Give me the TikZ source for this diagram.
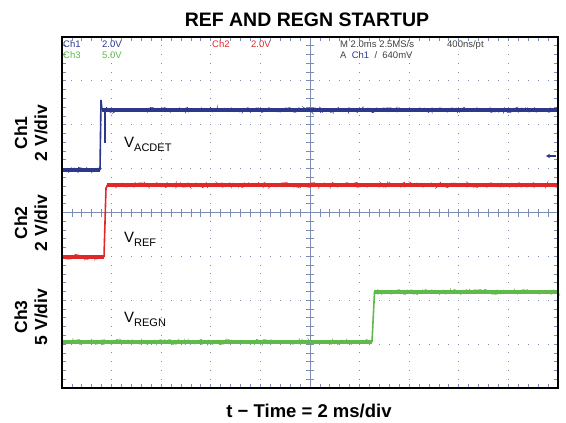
\documentclass[tikz,border=0pt]{standalone}
\usepackage{fontspec}
\setmainfont{Liberation Sans}
\usetikzlibrary{arrows.meta,decorations.pathmorphing}
\definecolor{chblue}{RGB}{44,56,140}
\definecolor{chred}{RGB}{225,40,40}
\definecolor{chgreen}{RGB}{95,185,75}
\definecolor{gridc}{RGB}{125,140,180}
\newcommand{\vsig}[1]{V{\fontsize{11}{11}\selectfont\raisebox{-4.5pt}{#1}}}

\begin{document}
\begin{tikzpicture}[x=1pt, y=-1pt, font=\fontsize{9.5}{9.5}\selectfont,
  trace/.style={line width=4.2pt, postaction={draw, line width=0.7pt, decorate, decoration={random steps, segment length=1.5pt, amplitude=2.6pt}}},
  edge/.style={line width=1.6pt},
  vdots/.style={gridc, line width=1pt, dash pattern=on 1pt off 7.775pt, dash phase=0.5pt},
  hdots/.style={gridc, line width=1pt, dash pattern=on 1pt off 8.92pt, dash phase=0.5pt},
  tick/.style={gridc, line width=0.8pt},
  hdr/.style={anchor=base west, inner sep=0pt},
  axlab/.style={font=\bfseries\fontsize{17.5}{20}\selectfont, align=center, rotate=90},
  siglab/.style={font=\fontsize{15}{15}\selectfont, anchor=base west, inner sep=0pt}]
	\useasboundingbox (0,0) rectangle (566,423);
	% grid
	\foreach \i in {1,2,3,4,6,7,8,9}
	  \draw[vdots] ({62+49.6*\i},37) -- ({62+49.6*\i},388);
	\foreach \j in {1,2,3,5,6,7}
	  \draw[hdots] (62,{37+43.875*\j}) -- (558,{37+43.875*\j});
	\draw[tick] (310,37) -- (310,388);
	\draw[tick] (62,212.5) -- (558,212.5);
	\foreach \k in {1,...,49} {
	  \draw[tick] ({62+9.92*\k},208.5) -- ++(0,8);
	  \draw[tick] ({62+9.92*\k},37) -- ++(0,4);
	  \draw[tick] ({62+9.92*\k},388) -- ++(0,-4);
	}
	\foreach \k in {1,...,39} {
	  \draw[tick] (306,{37+8.775*\k}) -- ++(8,0);
	  \draw[tick] (62,{37+8.775*\k}) -- ++(4,0);
	  \draw[tick] (558,{37+8.775*\k}) -- ++(-4,0);
	}
	% traces
	\draw[chgreen, trace] (62,342) -- (372,342);
	\draw[chgreen, edge] (372,342) -- (374.5,292);
	\draw[chgreen, trace] (374,292) -- (558,292);
	\draw[chred, trace] (62,257) -- (104,257);
	\draw[chred, edge] (104,257) -- (106,188) -- (108,185);
	\draw[chred, trace] (106.5,185) -- (558,185);
	\draw[chblue, trace] (62,170) -- (100,170);
	\draw[chblue, edge] (100,170) -- (101,100) -- (102,110);
	\draw[chblue, trace] (102,110) -- (558,110);
	\draw[chblue, line width=1.2pt] (105,110) -- (105,143);
	\draw[chblue, line width=1.2pt, -{Stealth[length=4pt,width=4.5pt]}] (556,156) -- (546,156);
	\draw[line width=2pt] (62,37) rectangle (558,388);
	% scope readout
	\node[hdr, chblue] (ch1) at (63,47) {Ch1};
	\node[hdr, chblue] (ch1v) at (102,47) {2.0V};
	\node[hdr, chgreen] (ch3) at (63,58) {Ch3};
	\node[hdr, chgreen] (ch3v) at (102,58) {5.0V};
	\node[hdr, chred] (ch2) at (212,47) {Ch2};
	\node[hdr, chred] (ch2v) at (251,47) {2.0V};
	\node[hdr, black!75] (tbase) at (340,47) {M 2.0ms 2.5MS/s};
	\node[hdr, black!75] (npt) at (447,47) {400ns/pt};
	\node[hdr, black!75] (trig) at (340,58) {A\ \ {\color{chblue}Ch1}\ \ /\ \ 640mV};
	% labels
	\node[siglab] (vacdet) at (124,147) {\vsig{ACDET}};
	\node[siglab] (vref) at (124,242) {\vsig{REF}};
	\node[siglab] (vregn) at (124,322) {\vsig{REGN}};
	\node[axlab] (ax1) at (31,133) {Ch1\\2 V/div};
	\node[axlab] (ax2) at (31,223) {Ch2\\2 V/div};
	\node[axlab] (ax3) at (31,317) {Ch3\\5 V/div};
	\node[font=\bfseries\fontsize{19.5}{19.5}\selectfont] (title) at (307,20) {REF AND REGN STARTUP};
	\node[font=\bfseries\fontsize{18.5}{18.5}\selectfont] (xlab) at (309,411) {t − Time = 2 ms/div};
\end{tikzpicture}
\end{document}
